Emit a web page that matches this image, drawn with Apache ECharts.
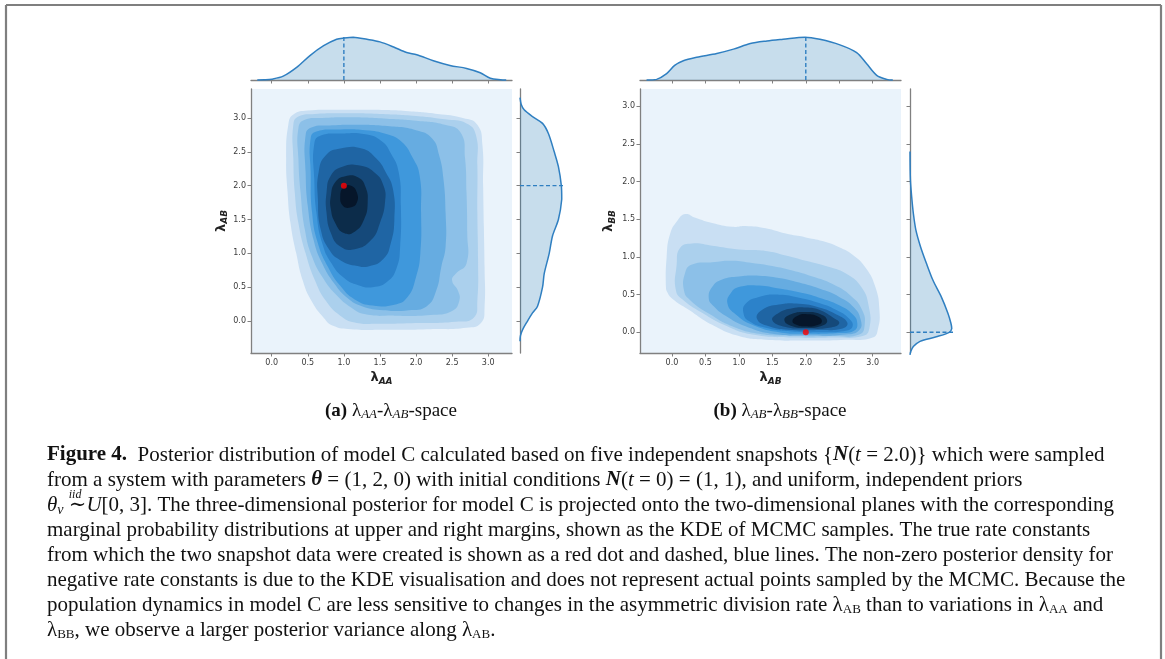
<!DOCTYPE html>
<html><head><meta charset="utf-8">
<script src="https://cdn.jsdelivr.net/npm/echarts@6/dist/echarts.min.js"></script>
<style>html,body{margin:0;padding:0;background:#fff;}#c{width:1165px;height:659px;}</style>
</head><body><div id="c"></div>
<script>
// ---------------- DATA ----------------
const tickValues = [0, 0.5, 1, 1.5, 2, 2.5, 3];
const tickLabels = ['0.0', '0.5', '1.0', '1.5', '2.0', '2.5', '3.0'];
const trueA = [1.0, 2.0];   // (λAA, λAB)
const trueB = [2.0, 0.0];   // (λAB, λBB)

// KDE contour regions, panel (a): [λAA, λAB], outer level -> inner level
const contourA = [
  [[0.23,2.9],[0.3,3.05],[0.5,3.11],[0.9,3.12],[1.4,3.12],[1.9,3.1],[2.3,3.06],[2.65,3.0],[2.85,2.9],[2.92,2.6],[2.93,2.0],[2.94,1.4],[2.95,0.8],[2.95,0.2],[2.9,-0.03],[2.7,-0.1],[2.2,-0.12],[1.6,-0.13],[1.1,-0.12],[0.85,-0.07],[0.72,0.05],[0.55,0.3],[0.43,0.6],[0.34,1.0],[0.26,1.45],[0.22,1.9],[0.2,2.4]],
  [[0.3,2.9],[0.37,3.02],[0.6,3.06],[1.0,3.07],[1.5,3.06],[2.0,3.03],[2.4,2.98],[2.7,2.92],[2.83,2.75],[2.85,2.3],[2.85,1.6],[2.86,0.9],[2.85,0.3],[2.8,0.05],[2.55,-0.01],[2.0,-0.03],[1.5,-0.04],[1.15,-0.02],[0.95,0.08],[0.75,0.3],[0.6,0.6],[0.47,1.0],[0.37,1.45],[0.32,1.9],[0.3,2.4]],
  [[0.37,2.85],[0.45,2.97],[0.7,3.0],[1.1,3.01],[1.6,2.99],[2.0,2.96],[2.4,2.9],[2.62,2.78],[2.68,2.4],[2.7,1.9],[2.71,1.3],[2.7,0.85],[2.55,0.7],[2.5,0.6],[2.58,0.45],[2.6,0.3],[2.5,0.15],[2.2,0.09],[1.7,0.08],[1.3,0.1],[1.1,0.2],[0.9,0.38],[0.72,0.62],[0.56,0.95],[0.46,1.35],[0.4,1.9],[0.37,2.4]],
  [[0.47,2.75],[0.55,2.86],[0.8,2.89],[1.2,2.9],[1.6,2.88],[2.0,2.82],[2.22,2.7],[2.32,2.45],[2.38,2.1],[2.41,1.6],[2.41,1.1],[2.35,0.8],[2.28,0.45],[2.15,0.22],[1.9,0.16],[1.55,0.16],[1.25,0.22],[1.05,0.34],[0.87,0.55],[0.7,0.85],[0.58,1.2],[0.5,1.7],[0.47,2.2]],
  [[0.54,2.7],[0.62,2.8],[0.9,2.83],[1.3,2.82],[1.6,2.76],[1.8,2.65],[1.95,2.42],[2.05,2.15],[2.07,1.6],[2.06,1.0],[2.0,0.65],[1.88,0.35],[1.7,0.24],[1.4,0.23],[1.15,0.32],[0.95,0.52],[0.78,0.8],[0.64,1.15],[0.56,1.6],[0.54,2.2]],
  [[0.59,2.62],[0.68,2.74],[0.95,2.77],[1.3,2.76],[1.52,2.66],[1.65,2.48],[1.76,2.2],[1.79,1.7],[1.78,1.1],[1.73,0.78],[1.6,0.58],[1.4,0.5],[1.2,0.53],[1.0,0.64],[0.83,0.85],[0.7,1.15],[0.62,1.6],[0.59,2.1]],
  [[0.65,2.2],[0.75,2.45],[0.95,2.55],[1.25,2.55],[1.45,2.4],[1.58,2.2],[1.68,1.95],[1.7,1.5],[1.65,1.15],[1.55,0.92],[1.35,0.81],[1.15,0.82],[0.95,0.9],[0.8,1.05],[0.68,1.35],[0.64,1.8]],
  [[0.76,1.9],[0.82,2.15],[0.98,2.28],[1.2,2.3],[1.42,2.2],[1.55,2.0],[1.57,1.75],[1.5,1.45],[1.38,1.2],[1.15,1.06],[0.95,1.1],[0.82,1.3],[0.76,1.6]],
  [[0.82,1.85],[0.88,2.05],[1.02,2.14],[1.2,2.12],[1.3,1.98],[1.33,1.75],[1.28,1.5],[1.15,1.32],[1.0,1.3],[0.88,1.45],[0.82,1.65]],
  [[0.95,1.85],[1.0,1.98],[1.1,2.0],[1.18,1.9],[1.18,1.75],[1.1,1.68],[0.99,1.7]]
];

// KDE contour regions, panel (b): [λAB, λBB]
const contourB = [
  [[-0.09,0.6],[-0.08,1.0],[-0.03,1.3],[0.08,1.48],[0.2,1.57],[0.35,1.52],[0.6,1.45],[0.9,1.4],[1.1,1.41],[1.4,1.38],[1.7,1.31],[2.0,1.26],[2.3,1.2],[2.5,1.13],[2.7,1.03],[2.9,0.85],[3.04,0.6],[3.1,0.3],[3.08,0.05],[3.0,-0.07],[2.6,-0.1],[2.0,-0.11],[1.4,-0.1],[1.0,-0.05],[0.6,0.1],[0.25,0.3],[0.0,0.45],[-0.07,0.53]],
  [[0.06,0.55],[0.07,0.9],[0.12,1.12],[0.3,1.18],[0.6,1.15],[1.0,1.1],[1.4,1.08],[1.7,1.02],[2.0,0.95],[2.3,0.88],[2.6,0.78],[2.83,0.6],[2.94,0.35],[2.95,0.05],[2.85,-0.05],[2.4,-0.07],[1.8,-0.07],[1.2,-0.03],[0.8,0.09],[0.45,0.26],[0.18,0.42]],
  [[0.18,0.55],[0.2,0.8],[0.3,0.9],[0.6,0.93],[0.9,0.95],[1.2,0.92],[1.5,0.88],[1.8,0.82],[2.1,0.74],[2.4,0.64],[2.68,0.48],[2.84,0.3],[2.88,0.1],[2.8,-0.03],[2.4,-0.05],[1.8,-0.05],[1.3,-0.02],[0.9,0.08],[0.55,0.25],[0.28,0.42]],
  [[0.55,0.45],[0.6,0.6],[0.75,0.7],[1.0,0.74],[1.3,0.75],[1.6,0.72],[1.9,0.66],[2.2,0.58],[2.5,0.47],[2.72,0.33],[2.82,0.17],[2.8,0.03],[2.6,-0.03],[2.0,-0.04],[1.5,-0.02],[1.1,0.08],[0.8,0.22],[0.62,0.35]],
  [[0.83,0.38],[0.88,0.52],[1.0,0.6],[1.3,0.62],[1.6,0.58],[1.9,0.53],[2.2,0.46],[2.5,0.36],[2.7,0.24],[2.77,0.12],[2.72,0.02],[2.5,-0.01],[2.0,-0.02],[1.6,0.0],[1.2,0.1],[0.95,0.24]],
  [[1.07,0.25],[1.1,0.38],[1.3,0.47],[1.6,0.5],[1.9,0.46],[2.2,0.39],[2.45,0.3],[2.65,0.18],[2.7,0.08],[2.6,0.02],[2.2,0.0],[1.8,0.01],[1.4,0.06],[1.15,0.15]],
  [[1.27,0.18],[1.35,0.3],[1.6,0.37],[1.9,0.38],[2.2,0.33],[2.45,0.24],[2.62,0.13],[2.55,0.05],[2.2,0.03],[1.8,0.03],[1.45,0.08]],
  [[1.5,0.16],[1.6,0.26],[1.8,0.32],[2.0,0.33],[2.2,0.3],[2.4,0.2],[2.5,0.12],[2.35,0.06],[2.0,0.05],[1.7,0.07]],
  [[1.68,0.16],[1.78,0.24],[2.0,0.27],[2.22,0.24],[2.32,0.15],[2.22,0.08],[2.0,0.06],[1.8,0.08]],
  [[1.8,0.15],[1.88,0.22],[2.02,0.24],[2.18,0.21],[2.24,0.14],[2.15,0.09],[2.0,0.08],[1.86,0.1]]
];

// marginal KDE densities (normalised to peak = 1): [value, density]
const margA_AA = [[-0.2,0],[-0.1,0.005],[0,0.02],[0.16,0.09],[0.35,0.3],[0.53,0.57],[0.72,0.8],[0.9,0.95],[1.0,0.98],[1.13,1.0],[1.32,0.95],[1.5,0.89],[1.69,0.77],[1.87,0.64],[2.01,0.59],[2.24,0.45],[2.47,0.34],[2.7,0.27],[2.89,0.17],[3.03,0.04],[3.17,0.005],[3.25,0]];
const margA_AB = [[3.3,0],[3.2,0.03],[3.12,0.1],[3.02,0.3],[2.92,0.54],[2.77,0.68],[2.5,0.82],[2.28,0.92],[2.0,0.99],[1.8,1.0],[1.5,0.92],[1.26,0.78],[1.0,0.7],[0.7,0.58],[0.5,0.54],[0.22,0.42],[0.12,0.3],[0.0,0.18],[-0.13,0.06],[-0.22,0.01],[-0.3,0]];
const margB_AB = [[-0.38,0],[-0.23,0.015],[-0.08,0.15],[0.04,0.34],[0.17,0.45],[0.37,0.53],[0.67,0.62],[0.92,0.72],[1.17,0.85],[1.42,0.91],[1.66,0.95],[1.99,1.0],[2.21,0.95],[2.51,0.82],[2.76,0.64],[2.91,0.38],[3.06,0.11],[3.21,0.015],[3.3,0]];
const margB_BB = [[2.4,0],[2.02,0.01],[1.8,0.04],[1.58,0.08],[1.36,0.14],[1.14,0.25],[0.92,0.39],[0.69,0.55],[0.47,0.75],[0.25,0.91],[0.12,0.98],[0.05,1.0],[0.0,0.94],[-0.06,0.63],[-0.12,0.24],[-0.19,0.08],[-0.26,0.015],[-0.3,0]];

// ---------------- STYLE ----------------
const SERIF = '"Liberation Serif","DejaVu Serif",serif';
const SANS = '"DejaVu Sans",sans-serif';
const levelColors = ['#c9dff3','#abd0ed','#8cc0e8','#66ace1','#3f98dc','#2c82ca','#1f65a4','#15497a','#0c2c4a','#06162a'];
const bgBlue = '#eaf3fb';
const lineBlue = '#2f7fc1';
const fillBlue = 'rgba(31,119,180,0.25)';
const axisGray = '#808080';

const chart = echarts.init(document.getElementById('c'), null, {renderer: 'canvas', width: 1165, height: 659});

function tickFmt(v) {
  const i = tickValues.findIndex(t => Math.abs(t - v) < 1e-6);
  return i >= 0 ? tickLabels[i] : '';
}
function bbox(c) {
  let x0 = Infinity, y0 = Infinity, x1 = -Infinity, y1 = -Infinity;
  c.forEach(p => { x0 = Math.min(x0, p[0]); y0 = Math.min(y0, p[1]); x1 = Math.max(x1, p[0]); y1 = Math.max(y1, p[1]); });
  return [[x0, y0], [x1, y1]];
}
const nameRich = {
  l: {fontSize: 13, fontWeight: 'bold', fontFamily: SANS, color: '#222'},
  s: {fontSize: 9, fontWeight: 'bold', fontStyle: 'italic', fontFamily: SANS, color: '#222', padding: [7, 0, 0, 0]}
};
function mainAxis(dim, grid, min, max, name, gap) {
  return {
    type: 'value', gridIndex: grid, min: min, max: max,
    position: dim === 'x' ? 'bottom' : 'left',
    axisLine: {show: true, onZero: false, lineStyle: {color: axisGray, width: 1.3}},
    axisTick: {show: true, length: 3.5, customValues: tickValues, lineStyle: {color: axisGray, width: 1}},
    axisLabel: {show: true, customValues: tickValues, formatter: tickFmt, fontSize: 8, color: '#3a3a3a', fontFamily: SANS, margin: dim === 'x' ? 6 : 5},
    splitLine: {show: false},
    name: name, nameLocation: 'middle', nameGap: gap, nameRotate: dim === 'x' ? 0 : 90,
    nameTextStyle: {rich: nameRich}
  };
}
function margAxis(dim, grid, min, max) {
  return {
    type: 'value', gridIndex: grid, min: min, max: max,
    position: dim === 'x' ? 'bottom' : 'left',
    axisLine: {show: true, onZero: false, lineStyle: {color: axisGray, width: 1.3}},
    axisTick: {show: true, length: 3.5, customValues: tickValues, lineStyle: {color: axisGray, width: 1}},
    axisLabel: {show: false}, splitLine: {show: false}
  };
}
function densAxis(grid, max) {
  return {type: 'value', gridIndex: grid, min: 0, max: max, show: false, splitLine: {show: false}};
}

function contourSeries(levels, ai) {
  return {
    type: 'custom', xAxisIndex: ai, yAxisIndex: ai, clip: true, silent: true, z: 2,
    data: levels.map((lv, i) => [lv[0][0], lv[0][1], i]),
    renderItem: function (params, api) {
      const k = api.value(2);
      const pts = levels[k].map(p => api.coord(p));
      return {type: 'polygon', shape: {points: pts, smooth: 0.5}, style: {fill: levelColors[k]}};
    }
  };
}
function marginalSeries(pts, ai, vertical) {
  return {
    type: 'custom', xAxisIndex: ai, yAxisIndex: ai, clip: false, silent: true, z: 3,
    data: [vertical ? [0, pts[0][0]] : [pts[0][0], 0]],
    renderItem: function (params, api) {
      const c = pts.map(p => vertical ? api.coord([p[1], p[0]]) : api.coord([p[0], p[1]]));
      const bb = bbox(c);
      return {type: 'group', children: [
        {type: 'polygon', shape: {points: c, smooth: 0.3, smoothConstraint: bb}, style: {fill: fillBlue}},
        {type: 'polyline', shape: {points: c, smooth: 0.3, smoothConstraint: bb}, style: {stroke: lineBlue, lineWidth: 1.5, fill: null}}
      ]};
    }
  };
}
function dashSeries(ai, data) {
  return {type: 'line', xAxisIndex: ai, yAxisIndex: ai, data: data, symbol: 'none', silent: true, z: 4,
    lineStyle: {color: lineBlue, width: 1.4, type: [4, 2.5]}, animation: false};
}

const FS = 21;
const capRich = {
  n: {fontSize: FS, fontFamily: SERIF, fill: '#111'},
  b: {fontSize: FS, fontFamily: SERIF, fontWeight: 'bold', fill: '#111'},
  bi: {fontSize: FS, fontFamily: SERIF, fontWeight: 'bold', fontStyle: 'italic', fill: '#111'},
  i: {fontSize: FS, fontFamily: SERIF, fontStyle: 'italic', fill: '#111'},
  sub: {fontSize: 13, fontFamily: SERIF, fill: '#111', padding: [10, 0, 0, 0]},
  subi: {fontSize: 14, fontFamily: SERIF, fontStyle: 'italic', fill: '#111', padding: [10, 0, 0, 0]},
  sup: {fontSize: 12, fontFamily: SERIF, fontStyle: 'italic', fill: '#111', padding: [0, 0, 20, 0], width: 0}
};
const captionLines = [
  '{b|Figure 4.}{n|  Posterior distribution of model C calculated based on five independent snapshots {}{bi|N}{n|(}{i|t}{n| = 2.0)}}{n| which were sampled}',
  '{n|from a system with parameters }{bi|θ}{n| = (1, 2, 0) with initial conditions }{bi|N}{n|(}{i|t}{n| = 0) = (1, 1), and uniform, independent priors}',
  '{i|θ}{subi|ν}{n| }{sup|iid}{n|∼}{i|U}{n|[0, 3]. The three-dimensional posterior for model C is projected onto the two-dimensional planes with the corresponding}',
  '{n|marginal probability distributions at upper and right margins, shown as the KDE of MCMC samples. The true rate constants}',
  '{n|from which the two snapshot data were created is shown as a red dot and dashed, blue lines. The non-zero posterior density for}',
  '{n|negative rate constants is due to the KDE visualisation and does not represent actual points sampled by the MCMC. Because the}',
  '{n|population dynamics in model C are less sensitive to changes in the asymmetric division rate }{n|λ}{sub|AB}{n| than to variations in }{n|λ}{sub|AA}{n| and}',
  '{n|λ}{sub|BB}{n|, we observe a larger posterior variance along }{n|λ}{sub|AB}{n|.}'
];
const subRich = {
  b: {fontSize: 19, fontFamily: SERIF, fontWeight: 'bold', fill: '#111'},
  n: {fontSize: 19, fontFamily: SERIF, fill: '#111'},
  s: {fontSize: 13, fontFamily: SERIF, fontStyle: 'italic', fill: '#111', padding: [8, 0, 0, 0]}
};

const graphics = [
  {type: 'line', shape: {x1: 6, y1: 5, x2: 1161, y2: 5}, style: {stroke: '#7f7f7f', lineWidth: 2.2}},
  {type: 'line', shape: {x1: 6, y1: 5, x2: 6, y2: 659}, style: {stroke: '#7f7f7f', lineWidth: 2.2}},
  {type: 'line', shape: {x1: 1161, y1: 5, x2: 1161, y2: 659}, style: {stroke: '#7f7f7f', lineWidth: 2.2}},
  {type: 'text', x: 391, y: 411, style: {text: '{b|(a)}{n| λ}{s|AA}{n|-λ}{s|AB}{n|-space}', rich: subRich, fontSize: 19, fontFamily: SERIF, align: 'center', verticalAlign: 'middle'}},
  {type: 'text', x: 780, y: 411, style: {text: '{b|(b)}{n| λ}{s|AB}{n|-λ}{s|BB}{n|-space}', rich: subRich, fontSize: 19, fontFamily: SERIF, align: 'center', verticalAlign: 'middle'}}
];
captionLines.forEach((t, i) => {
  graphics.push({type: 'text', x: 47, y: 455 + i * 25, style: {text: t, rich: capRich, fontSize: FS, fontFamily: SERIF, fill: '#111', align: 'left', verticalAlign: 'middle'}});
});

const option = {
  animation: false,
  backgroundColor: '#ffffff',
  grid: [
    {left: 251, top: 89, width: 261, height: 264, show: true, backgroundColor: bgBlue, borderWidth: 0},
    {left: 251, top: 35, width: 261, height: 45},
    {left: 520, top: 89, width: 43, height: 264},
    {left: 640, top: 89, width: 261, height: 264, show: true, backgroundColor: bgBlue, borderWidth: 0},
    {left: 640, top: 35, width: 261, height: 45},
    {left: 910, top: 89, width: 43, height: 264}
  ],
  xAxis: [
    mainAxis('x', 0, -0.287, 3.33, '{l|λ}{s|AA}', 17),
    margAxis('x', 1, -0.287, 3.33),
    densAxis(2, 1.03),
    mainAxis('x', 3, -0.478, 3.423, '{l|λ}{s|AB}', 17),
    margAxis('x', 4, -0.478, 3.423),
    densAxis(5, 1.03)
  ],
  yAxis: [
    mainAxis('y', 0, -0.472, 3.428, '{l|λ}{s|AB}', 21),
    densAxis(1, 1.05),
    margAxis('y', 2, -0.472, 3.428),
    mainAxis('y', 3, -0.275, 3.23, '{l|λ}{s|BB}', 23),
    densAxis(4, 1.05),
    margAxis('y', 5, -0.275, 3.23)
  ],
  series: [
    contourSeries(contourA, 0),
    contourSeries(contourB, 3),
    marginalSeries(margA_AA, 1, false),
    marginalSeries(margA_AB, 2, true),
    marginalSeries(margB_AB, 4, false),
    marginalSeries(margB_BB, 5, true),
    dashSeries(1, [[trueA[0], 0], [trueA[0], 1.05]]),
    dashSeries(2, [[0, trueA[1]], [1.03, trueA[1]]]),
    dashSeries(4, [[trueB[0], 0], [trueB[0], 1.05]]),
    dashSeries(5, [[0, trueB[1]], [1.03, trueB[1]]]),
    {type: 'scatter', xAxisIndex: 0, yAxisIndex: 0, data: [trueA], symbolSize: 6, itemStyle: {color: '#ff0000'}, z: 10, silent: true},
    {type: 'scatter', xAxisIndex: 3, yAxisIndex: 3, data: [trueB], symbolSize: 6, itemStyle: {color: '#ff0000'}, z: 10, silent: true}
  ],
  graphic: graphics
};
chart.setOption(option);
</script></body></html>
